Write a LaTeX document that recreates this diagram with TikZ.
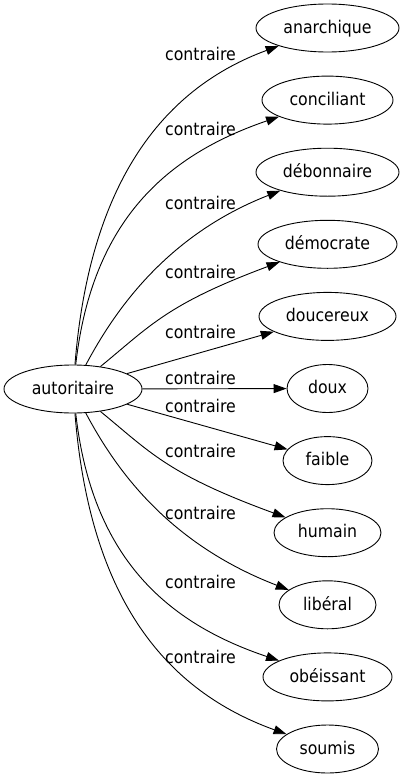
\documentclass[tikz,border=0pt]{standalone}
\usepackage{fontspec}
\setmainfont{DejaVu Sans}[FakeStretch=0.9]
\usetikzlibrary{shapes.geometric,arrows.meta}
\begin{document}
\begin{tikzpicture}[x=1pt,y=-1pt,
  word/.style={ellipse,draw,line width=0.9pt,minimum height=48pt,inner sep=0pt,
    text height=10.5pt,text depth=0pt,font=\fontsize{17.5}{20}\selectfont},
  rel/.style={anchor=base,inner sep=0pt,font=\fontsize{17.5}{20}\selectfont},
  link/.style={line width=0.9pt,-{Triangle[length=13pt,width=9pt]}}]
\useasboundingbox (0,0) rectangle (406,779);
\node[word,minimum width=138pt] (aut) at (73,389) {autoritaire};
\node[word,minimum width=143pt] (ana) at (327.5,28) {anarchique};
\node[word,minimum width=131pt] (con) at (327.5,100.1) {conciliant};
\node[word,minimum width=143pt] (deb) at (327.5,172.2) {débonnaire};
\node[word,minimum width=139pt] (dem) at (327.5,244.3) {démocrate};
\node[word,minimum width=137pt] (dou) at (327.5,316.4) {doucereux};
\node[word,minimum width=81pt] (dx) at (327.5,388.5) {doux};
\node[word,minimum width=89pt] (fai) at (327.5,460.6) {faible};
\node[word,minimum width=107pt] (hum) at (327.5,532.7) {humain};
\node[word,minimum width=97pt] (lib) at (327.5,604.8) {libéral};
\node[word,minimum width=129pt] (obe) at (327.5,676.9) {obéissant};
\node[word,minimum width=102pt] (sou) at (327.5,749) {soumis};
\node[rel] (l1) at (200.5,60) {contraire};
\node[rel] (l2) at (200.5,135) {contraire};
\node[rel] (l3) at (200.5,209) {contraire};
\node[rel] (l4) at (200.5,278) {contraire};
\node[rel] (l5) at (200.5,338) {contraire};
\node[rel] (l6) at (200.5,384) {contraire};
\node[rel] (l7) at (200.5,412) {contraire};
\node[rel] (l8) at (200.5,457) {contraire};
\node[rel] (l9) at (200.5,519) {contraire};
\node[rel] (l10) at (200.5,588) {contraire};
\node[rel] (l11) at (200.5,663) {contraire};
\draw[link] (aut) .. controls (90,177) and (167,87) .. (ana);
\draw[link] (aut) .. controls (92,220) and (167,155) .. (con);
\draw[link] (aut) .. controls (115,310) and (167,235) .. (deb);
\draw[link] (aut) .. controls (150,326) and (167,304) .. (dem);
\draw[link] (aut) -- (dou);
\draw[link] (aut) -- (dx);
\draw[link] (aut) -- (fai);
\draw[link] (aut) .. controls (150,452) and (167,474) .. (hum);
\draw[link] (aut) .. controls (115,468) and (167,543) .. (lib);
\draw[link] (aut) .. controls (92,558) and (167,623) .. (obe);
\draw[link] (aut) .. controls (90,601) and (167,691) .. (sou);
\end{tikzpicture}
\end{document}
